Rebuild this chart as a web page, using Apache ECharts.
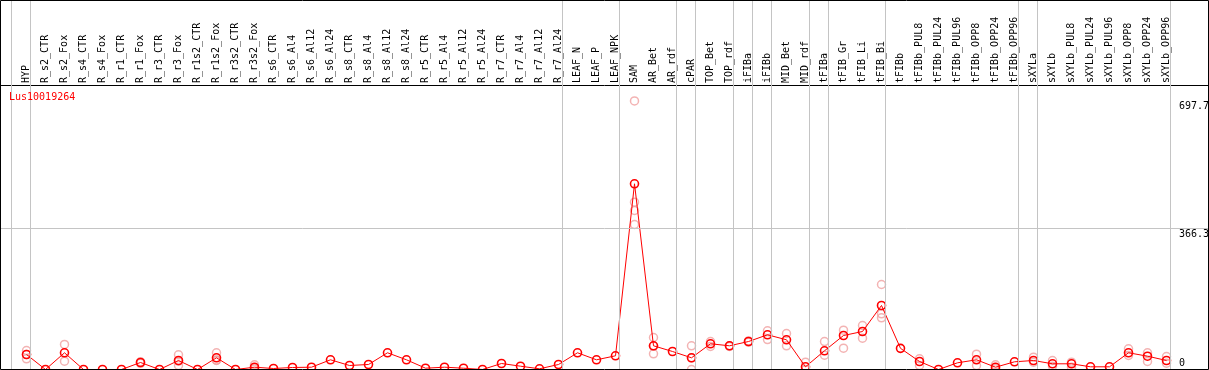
<!DOCTYPE html>
<html>
<head>
<meta charset="utf-8">
<script src="https://cdn.jsdelivr.net/npm/echarts@6/dist/echarts.min.js"></script>
<style>
  html, body { margin: 0; padding: 0; background: #fff; }
  #chart { width: 1209px; height: 370px; }
</style>
</head>
<body>
<div id="chart"></div>
<script>
// sample names (columns)
var names = ['HYP', 'R_s2_CTR', 'R_s2_Fox', 'R_s4_CTR', 'R_s4_Fox', 'R_r1_CTR', 'R_r1_Fox',
    'R_r3_CTR', 'R_r3_Fox', 'R_r1s2_CTR', 'R_r1s2_Fox', 'R_r3s2_CTR', 'R_r3s2_Fox',
    'R_s6_CTR', 'R_s6_Al4', 'R_s6_Al12', 'R_s6_Al24', 'R_s8_CTR', 'R_s8_Al4', 'R_s8_Al12',
    'R_s8_Al24', 'R_r5_CTR', 'R_r5_Al4', 'R_r5_Al12', 'R_r5_Al24', 'R_r7_CTR', 'R_r7_Al4',
    'R_r7_Al12', 'R_r7_Al24', 'LEAF_N', 'LEAF_P', 'LEAF_NPK', 'SAM', 'AR_Bet', 'AR_rdf',
    'cPAR', 'TOP_Bet', 'TOP_rdf', 'iFIBa', 'iFIBb', 'MID_Bet', 'MID_rdf', 'tFIBa', 'tFIB_Gr',
    'tFIB_Li', 'tFIB_Bi', 'tFIBb', 'tFIBb_PUL8', 'tFIBb_PUL24', 'tFIBb_PUL96', 'tFIBb_OPP8',
    'tFIBb_OPP24', 'tFIBb_OPP96', 'sXYLa', 'sXYLb', 'sXYLb_PUL8', 'sXYLb_PUL24', 'sXYLb_PUL96',
    'sXYLb_OPP8', 'sXYLb_OPP24', 'sXYLb_OPP96'];

// mean expression per sample
var means = [39, 0, 43.4, 0, 0, 0, 18.2, 0, 23.4, 0,
    30.4, 0, 6, 2.6, 5.2, 6, 25.2, 10.4, 13, 43.4,
    25.2, 3.4, 6, 3.4, 0, 15.6, 8.6, 1.8, 13, 43.4,
    25.2, 35.6, 482.5, 61.6, 46.8, 30.4, 66.8, 61.6, 72.7, 90.2,
    77.2, 7, 48.6, 88.3, 98.7, 166.3, 55, 20.8, 0, 17.4,
    25.2, 6, 20, 23.4, 14.8, 14.8, 7, 7, 43.4, 34.6, 23.4];

// replicate values (pale circles)
var reps = [[49.4, 39, 27.8], [], [65, 21.6], [], [], [], [16, 20], [], [38.2, 21.6, 10.4], [],
    [43.4, 24.4, 23.4], [], [12.2, 4.5, 1.3], [], [], [], [], [], [], [],
    [], [], [], [], [], [], [], [], [], [],
    [], [], [697.7, 434.7, 413.1, 376.7], [83.1, 61, 40.8], [], [61.6, 30, 0], [72.7, 59.8], [62, 60], [74, 71], [100.5, 77.9],
    [93.5, 61.6], [19, 0], [72.7, 37.2], [102.1, 55.3], [114.3, 81.3], [220.8, 144.7, 134.3], [], [27.8, 10.4], [], [],
    [39.7, 10.4], [12.2, 1.8], [], [32, 19], [23.4, 8.6], [19, 6], [], [], [53.8, 36.4], [43.4, 20.8], [33.8, 16.4]];

// last sample of each group (gray separators)
var groupEnds = [-1, 0, 28, 31, 34, 35, 37, 38, 39, 41, 42, 45, 52, 53, 60];

// y tick labels
var yTicks = [0, 366.3, 697.7];

var font = 'DejaVu Sans Mono';
var step = 19;          // px per sample
var firstX = 26.5;      // px of first sample
var xMin = -firstX / step;
var xMax = xMin + 1209 / step;

var lineData = means.map(function (v, i) { return [i, v]; });
var repData = [];
reps.forEach(function (list, i) {
    list.forEach(function (v) { repData.push([i, v]); });
});

var sepLines = groupEnds.map(function (g) { return { xAxis: g + 4 / step }; });
sepLines.push({ yAxis: yTicks[1] });

var chart = echarts.init(document.getElementById('chart'));
chart.setOption({
    animation: false,
    backgroundColor: '#fff',
    title: {
        text: 'Lus10019264',
        left: 9,
        top: 92,
        padding: 0,
        textStyle: { color: '#ff0000', fontFamily: font, fontSize: 10, fontWeight: 'normal' }
    },
    grid: { left: 0, right: 0, top: 0, bottom: 0.5, containLabel: false, outerBoundsMode: 'none' },
    xAxis: {
        type: 'value',
        position: 'top',
        offset: -85,
        min: xMin,
        max: xMax,
        axisLine: { show: true, onZero: false, lineStyle: { color: '#000', width: 1 } },
        axisTick: { show: false },
        splitLine: { show: false },
        axisLabel: {
            customValues: names.map(function (n, i) { return i; }),
            formatter: function (v) { return names[Math.round(v)] || ''; },
            rotate: -90,
            margin: 2,
            color: '#000',
            fontFamily: font,
            fontSize: 10
        }
    },
    yAxis: {
        type: 'value',
        position: 'right',
        min: 0,
        max: 960,
        axisLine: { show: false },
        axisTick: { show: false },
        splitLine: { show: false },
        axisLabel: {
            customValues: yTicks,
            inside: true,
            margin: 30,
            align: 'left',
            color: '#000',
            fontFamily: font,
            fontSize: 10,
            formatter: function (v) {
                return v === 0 ? '{d|0}' : '{u|' + v + '}';
            },
            rich: {
                u: { fontFamily: font, fontSize: 10, color: '#000', padding: [11, 0, 0, 0] },
                d: { fontFamily: font, fontSize: 10, color: '#000', padding: [0, 0, 13, 0] }
            }
        }
    },
    series: [
        {
            name: 'reps',
            type: 'scatter',
            data: repData,
            symbol: 'circle',
            symbolSize: 8,
            silent: true,
            itemStyle: { color: 'transparent', borderColor: '#f0a0a0', borderWidth: 1.5 },
            markLine: {
                silent: true,
                symbol: 'none',
                label: { show: false },
                lineStyle: { color: '#c4c4c4', type: 'solid', width: 1 },
                data: sepLines
            },
            z: 2
        },
        {
            name: 'mean',
            type: 'line',
            data: lineData,
            showAllSymbol: true,
            symbol: 'circle',
            symbolSize: 8,
            silent: true,
            lineStyle: { color: '#ff0000', width: 1 },
            itemStyle: { color: 'transparent', borderColor: '#ff0000', borderWidth: 1.6 },
            z: 3
        }
    ],
    graphic: [{
        type: 'rect',
        shape: { x: 0.5, y: 0.5, width: 1208, height: 369 },
        style: { fill: 'none', stroke: '#000', lineWidth: 1 },
        silent: true,
        z: 100
    }]
});
</script>
</body>
</html>
